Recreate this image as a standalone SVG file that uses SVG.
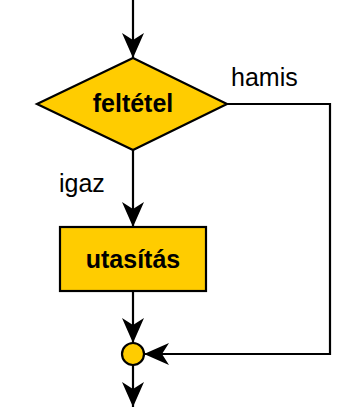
<svg xmlns="http://www.w3.org/2000/svg" width="361" height="407" viewBox="0 0 361 407">
<style>
.shape{fill:#ffcc00;stroke:#000;stroke-width:2.2}
.edge{fill:none;stroke:#000;stroke-width:2.2}
.lbl{font-family:"Liberation Sans",Arial,sans-serif;font-size:25px;fill:#000}
.bold{font-weight:bold;text-anchor:middle}
</style>
<defs>
<marker id="arr" viewBox="-26 -12 27 24" refX="0" refY="0" markerWidth="27" markerHeight="24" markerUnits="userSpaceOnUse" orient="auto">
<path d="M0,0 L-25,-11 L-18,0 L-25,11 Z" fill="#000"/>
</marker>
</defs>
<rect width="361" height="407" fill="#fff"/>
<g id="connectors">
<path class="edge" d="M133,0 L133,58" marker-end="url(#arr)"/>
<path class="edge" d="M133,150 L133,227" marker-end="url(#arr)"/>
<path class="edge" d="M133,291 L133,343" marker-end="url(#arr)"/>
<path class="edge" d="M133,365 L133,407" marker-end="url(#arr)"/>
<path class="edge" d="M227,104 L330,104 L330,354 L144,354" marker-end="url(#arr)"/>
<text class="lbl" x="231" y="86">hamis</text>
<text class="lbl" x="59" y="192">igaz</text>
</g>
<g id="condition">
<polygon class="shape" points="133,58 227,104 133,150 37,104"/>
<text class="lbl bold" x="133" y="112">feltétel</text>
</g>
<g id="statement">
<rect class="shape" x="60" y="227" width="146" height="64"/>
<text class="lbl bold" x="133" y="268">utasítás</text>
</g>
<g id="join">
<circle class="shape" cx="133" cy="354" r="11"/>
</g>
</svg>
